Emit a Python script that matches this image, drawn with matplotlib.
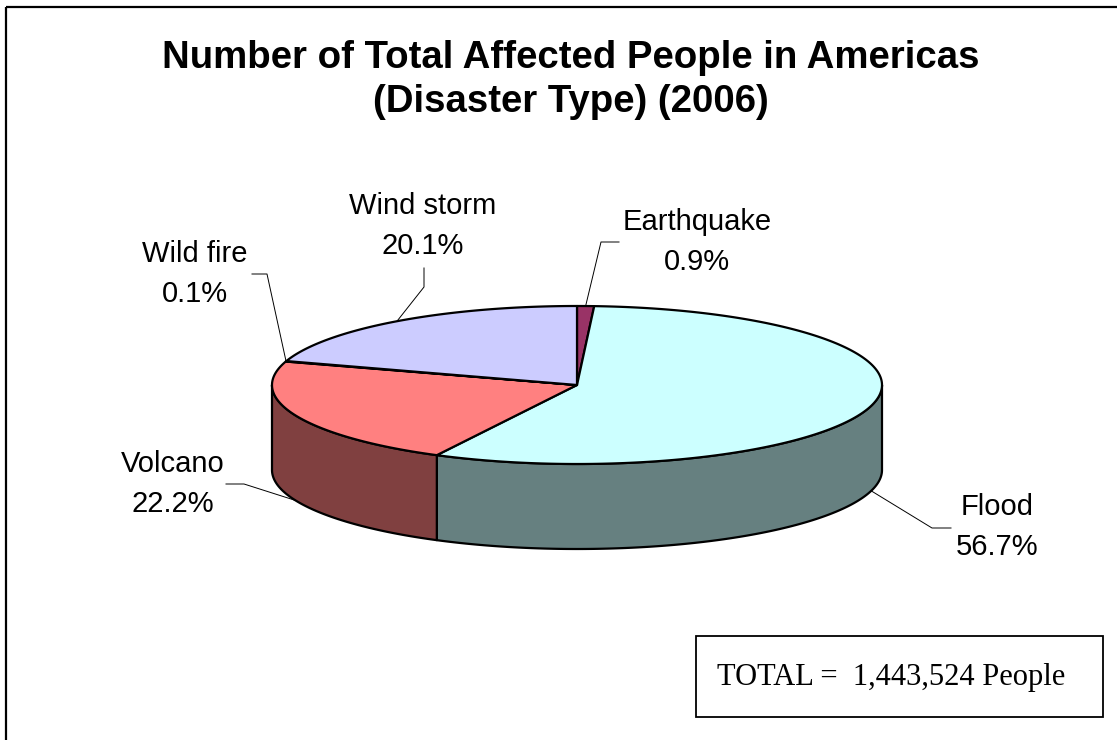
import numpy as np
import matplotlib.pyplot as plt
from matplotlib.patches import Polygon, Rectangle

# disaster types, clockwise from 12 o'clock
labels = ['Earthquake', 'Flood', 'Volcano', 'Wild fire', 'Wind storm']
shares = [0.9, 56.7, 22.2, 0.1, 20.1]
top_colors = ['#993366', '#CCFFFF', '#FF8080', '#FFFFCC', '#CCCCFF']
side_colors = ['#4D1A33', '#668080', '#804040', '#808066', '#666680']
total_people = 1443524

# pie geometry in pixel units
cx, cy = 577, 385
rx, ry = 305, 79
depth = 85

# label text centres
label_pos = {'Earthquake': (697, 242), 'Flood': (997, 527), 'Volcano': (173, 484),
             'Wild fire': (195, 274), 'Wind storm': (423, 226)}
# elbow of each leader line (text end, knee)
leader_knee = {'Earthquake': [(619, 242), (601, 242)], 'Flood': [(951, 528), (932, 528)],
               'Volcano': [(226, 484), (244, 484)], 'Wild fire': [(252, 274), (267, 274)],
               'Wind storm': [(424, 268), (424, 287)]}


def rim(theta, dy=0.0):
    t = np.radians(theta)
    return np.column_stack([cx + rx * np.sin(t), cy - ry * np.cos(t) + dy])


fig = plt.figure(figsize=(11.17, 7.40), dpi=100)
ax = fig.add_axes([0, 0, 1, 1])
ax.set_xlim(0, 1117)
ax.set_ylim(740, 0)
ax.axis('off')

# chart frame
ax.add_patch(Rectangle((6, 7), 1200, 800, fill=False, ec='black', lw=1.6))

bounds = np.concatenate([[0], np.cumsum(shares)]) / 100 * 360

# side walls (only the front half, 90..270 deg clockwise from top)
for i in range(len(shares)):
    a, b = max(bounds[i], 90), min(bounds[i + 1], 270)
    if b <= a:
        continue
    th = np.linspace(a, b, 200)
    pts = np.vstack([rim(th), rim(th[::-1], depth)])
    ax.add_patch(Polygon(pts, closed=True, fc=side_colors[i], ec='black', lw=1.6, joinstyle='round'))

# top faces
for i in range(len(shares)):
    th = np.linspace(bounds[i], bounds[i + 1], max(int(bounds[i + 1] - bounds[i]) * 2, 3))
    pts = np.vstack([[cx, cy], rim(th)])
    ax.add_patch(Polygon(pts, closed=True, fc=top_colors[i], ec='black', lw=1.6, joinstyle='round'))

# labels and leader lines
for i, name in enumerate(labels):
    mid = (bounds[i] + bounds[i + 1]) / 2
    anchor = rim([mid])[0]
    if np.cos(np.radians(mid)) < 0:
        anchor[1] += depth
    tx, ty = label_pos[name]
    ax.text(tx, ty, f'{name}\n{shares[i]:.1f}%', ha='center', va='center',
            fontsize=21, family='Liberation Sans', linespacing=1.52)
    line = np.array(leader_knee[name] + [tuple(anchor)])
    ax.plot(line[:, 0], line[:, 1], color='black', lw=0.7)

ax.text(571, 80, 'Number of Total Affected People in Americas\n(Disaster Type) (2006)',
        ha='center', va='center', fontsize=27.6, fontweight='bold',
        family='Liberation Sans', linespacing=1.28)

# total box
ax.add_patch(Rectangle((696, 636), 407, 81, fill=False, ec='black', lw=1.3))
ax.text(717, 677, f'TOTAL =  {total_people:,} People', ha='left', va='center',
        fontsize=22, family='Liberation Serif')

fig.savefig('out.png', dpi=100)
